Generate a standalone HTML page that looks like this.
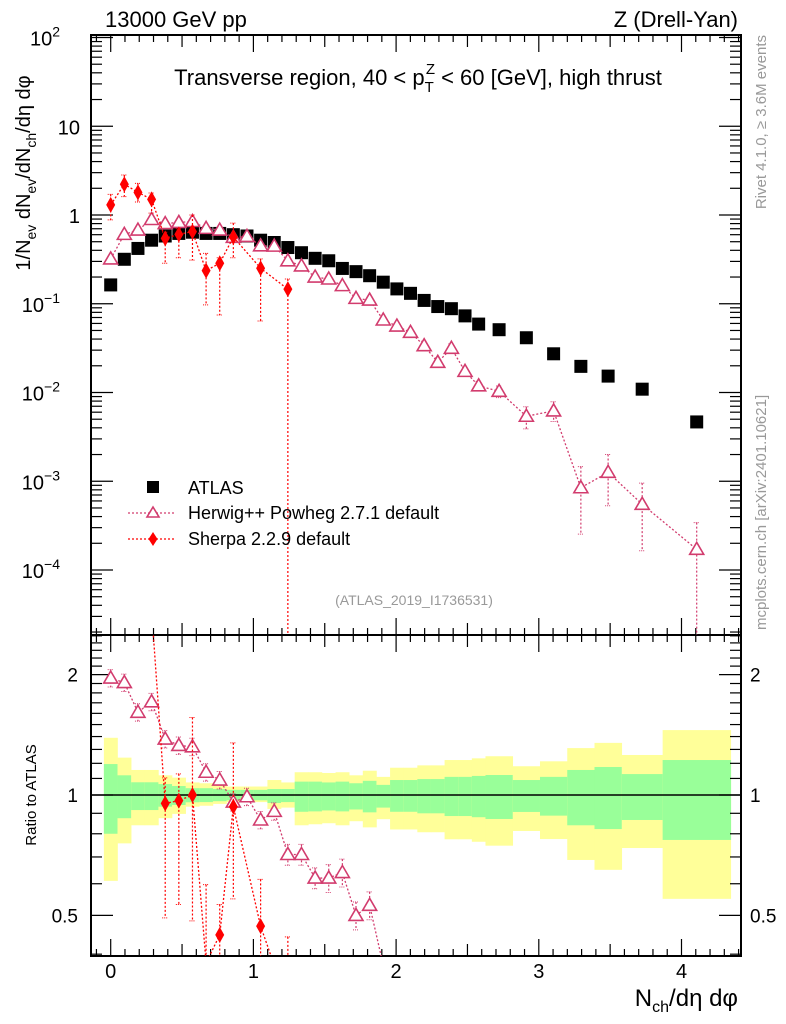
<!DOCTYPE html>
<html><head><meta charset="utf-8"><style>
html,body{margin:0;padding:0;background:#fff;width:786px;height:1024px;overflow:hidden;}
svg{display:block;font-family:"Liberation Sans",sans-serif;overflow:hidden;}
</style></head><body>
<svg id="chart" width="786" height="1024" viewBox="0 0 786 1024" xmlns="http://www.w3.org/2000/svg">
<g id="bands"></g>
<g id="grid"></g>
<g id="marks"></g>
<g id="labels">
<text x="105" y="27" font-size="22">13000 GeV pp</text>
<text x="738" y="27" font-size="22" text-anchor="end">Z (Drell-Yan)</text>
<text x="418" y="85" font-size="22" text-anchor="middle">Transverse region, 40 &lt; p<tspan font-size="15" dy="7">T</tspan><tspan font-size="15" dx="-8" dy="-18">Z</tspan><tspan dy="11"> &lt; 60 [GeV], high thrust</tspan></text>
<text transform="translate(766,35) rotate(-90)" font-size="15" fill="#999" text-anchor="end">Rivet 4.1.0, ≥ 3.6M events</text>
<text transform="translate(766,630) rotate(-90)" font-size="15" fill="#999">mcplots.cern.ch [arXiv:2401.10621]</text>
<text transform="translate(30,173) rotate(-90)" font-size="20" text-anchor="middle">1/N<tspan font-size="14" dy="6">ev</tspan><tspan dy="-6"> dN</tspan><tspan font-size="14" dy="6">ev</tspan><tspan dy="-6">/dN</tspan><tspan font-size="14" dy="6">ch</tspan><tspan dy="-6">/dη dφ</tspan></text>
<text transform="translate(36,795) rotate(-90)" font-size="15" text-anchor="middle">Ratio to ATLAS</text>
<text x="738" y="1006" font-size="24" text-anchor="end">N<tspan font-size="16" dy="6">ch</tspan><tspan dy="-6">/dη dφ</tspan></text>
<text x="414" y="605" font-size="14" fill="#999" text-anchor="middle">(ATLAS_2019_I1736531)</text>
<g>
<rect x="147" y="481" width="12" height="12" fill="#000"/>
<text x="188" y="494" font-size="18">ATLAS</text>
<line x1="128" y1="513" x2="176" y2="513" stroke="#d23c6e" stroke-width="1.2" stroke-dasharray="2,2"/>
<polygon points="153,507 159,517 147,517" fill="#fff" stroke="#d23c6e" stroke-width="1.6"/>
<text x="188" y="519" font-size="18">Herwig++ Powheg 2.7.1 default</text>
<line x1="128" y1="539" x2="176" y2="539" stroke="#f00" stroke-width="1.2" stroke-dasharray="2,2"/>
<polygon points="153,532 157.5,539 153,546 148.5,539" fill="#f00"/>
<text x="188" y="545" font-size="18">Sherpa 2.2.9 default</text>
</g>
</g>
</svg>
<script>
// ---- data ----
const xVals = [0,0.0955,0.191,0.2865,0.382,0.4775,0.573,0.6685,0.764,0.8595,0.955,1.0505,1.146,1.2415,1.337,1.4325,1.528,1.6235,1.719,1.8145,1.91,2.0055,2.101,2.1965,2.292,2.3875,2.483,2.5785,2.7218,2.9128,3.1038,3.2948,3.4858,3.7245,4.1065];
const binEdges = [-0.0478,0.0478,0.1433,0.2388,0.3343,0.4298,0.5253,0.6208,0.7163,0.8118,0.9073,1.0028,1.0983,1.1938,1.2893,1.3848,1.4803,1.5758,1.6713,1.7668,1.8623,1.9578,2.0533,2.1488,2.2443,2.3398,2.4353,2.5308,2.6263,2.8173,3.0083,3.1993,3.3903,3.5813,3.8678,4.3453];
const atlas = [0.163,0.317,0.42,0.52,0.58,0.62,0.64,0.62,0.62,0.6,0.58,0.52,0.49,0.43,0.376,0.325,0.305,0.25,0.23,0.207,0.175,0.147,0.131,0.109,0.093,0.088,0.073,0.059,0.051,0.0414,0.0273,0.0197,0.0153,0.0109,0.00466];
const herwig = [0.32,0.605,0.676,0.89,0.80,0.825,0.845,0.707,0.676,0.56,0.574,0.45,0.446,0.305,0.267,0.2,0.19,0.16,0.115,0.11,0.0656,0.0561,0.0476,0.0337,0.0219,0.0315,0.0173,0.0119,0.0103,0.0054,0.0062,0.000845,0.00126,0.00055,0.000171];
const herwigErrUp = [0.05,0.05,0.05,0.05,0.05,0.05,0.05,0.05,0.05,0.05,0.05,0.05,0.05,0.06,0.06,0.06,0.08,0.08,0.08,0.08,0.08,0.08,0.08,0.12,0.12,0.12,0.12,0.12,0.15,0.28,0.27,0.73,0.59,0.73,1.0];
const herwigErrDn = [0.05,0.05,0.05,0.05,0.05,0.05,0.05,0.05,0.05,0.05,0.05,0.05,0.05,0.06,0.06,0.06,0.08,0.08,0.08,0.08,0.08,0.08,0.08,0.12,0.12,0.12,0.12,0.12,0.15,0.28,0.24,0.70,0.58,0.70,1.0];
const herwigRatio = [1.96,1.91,1.61,1.71,1.38,1.33,1.32,1.14,1.09,0.96,0.99,0.866,0.91,0.71,0.71,0.62,0.62,0.64,0.50,0.53,0.375,0.38,0.363,0.31,0.235,0.36,0.237,0.2,0.2,0.13,0.23,0.043,0.082,0.05,0.037];
const sherpaIdx = [0,1,2,3,4,5,6,7,8,9,11,13];
const sherpa = [1.30,2.22,1.80,1.50,0.546,0.605,0.65,0.236,0.286,0.565,0.251,0.146];
const sherpaHi = [1.71,2.82,2.27,1.77,0.64,0.70,1.0,0.37,0.33,0.81,0.32,0.19];
const sherpaLo = [0.88,1.61,1.40,1.05,0.286,0.33,0.31,0.097,0.0747,0.33,0.064,0];
const sherpaRatio = [8.0,7.0,4.3,2.9,0.953,0.968,1.0,0.38,0.447,0.935,0.47,0.3];
const yellowUp = [1.39,1.24,1.155,1.155,1.12,1.105,1.075,1.07,1.06,1.05,1.05,1.05,1.09,1.075,1.14,1.14,1.135,1.14,1.12,1.15,1.11,1.17,1.17,1.186,1.186,1.223,1.223,1.235,1.25,1.18,1.214,1.31,1.35,1.259,1.453];
const greenUp = [1.195,1.12,1.076,1.076,1.065,1.053,1.04,1.04,1.035,1.03,1.03,1.03,1.035,1.035,1.08,1.08,1.075,1.08,1.07,1.085,1.06,1.09,1.09,1.096,1.096,1.11,1.11,1.116,1.122,1.09,1.11,1.155,1.175,1.128,1.223];
const greenDn = [0.80,0.875,0.917,0.917,0.935,0.944,0.959,0.96,0.965,0.97,0.97,0.97,0.955,0.96,0.908,0.91,0.915,0.91,0.92,0.905,0.93,0.908,0.908,0.90,0.90,0.886,0.886,0.88,0.871,0.907,0.888,0.84,0.822,0.866,0.772];
const yellowDn = [0.61,0.757,0.84,0.84,0.875,0.897,0.935,0.94,0.95,0.96,0.96,0.96,0.923,0.93,0.84,0.845,0.85,0.84,0.86,0.83,0.87,0.82,0.82,0.807,0.807,0.775,0.775,0.764,0.747,0.813,0.776,0.688,0.65,0.737,0.55];
const xTicks = [0,1,2,3,4];
const yTickExp = [2,1,0,-1,-2,-3,-4];
const yTickLabels = ["10","10","1","10","10","10","10"];
const yTickSup = ["2","","","−1","−2","−3","−4"];
const rTicks = [2,1,0.5];
const rTickLabels = ["2","1","0.5"];

// ---- geometry ----
const L=91, R=741, T=35, M=635, B=956;
const X = v => 110.7 + 142.7*v;
const Y = v => 570 - 88.75*(Math.log10(v)+4);
const RY = v => 795 - 400*Math.log10(v);
const RMIN=0.398, RMAX=2.55;
const NS="http://www.w3.org/2000/svg";
function mk(tag, attrs, parent){const e=document.createElementNS(NS,tag);for(const k in attrs)e.setAttribute(k,attrs[k]);parent.appendChild(e);return e;}
const bands=document.getElementById('bands'), grid=document.getElementById('grid'), marks=document.getElementById('marks');

const defs=mk('defs',{},document.getElementById('chart'));
const c1=mk('clipPath',{id:'clipTop'},defs); mk('rect',{x:L,y:T,width:R-L,height:M-T},c1);
const c2=mk('clipPath',{id:'clipBot'},defs); mk('rect',{x:L,y:M,width:R-L,height:B-M},c2);

for(let i=0;i<binEdges.length-1;i++){
  const x0=X(binEdges[i]), x1=X(binEdges[i+1]);
  const y=mk('rect',{x:x0,y:RY(yellowUp[i]),width:x1-x0+0.3,height:RY(yellowDn[i])-RY(yellowUp[i]),fill:'#ffff99'},bands);
  
  
  const g=mk('rect',{x:x0,y:RY(greenUp[i]),width:x1-x0+0.3,height:RY(greenDn[i])-RY(greenUp[i]),fill:'#99ff99'},bands);
  
  
}
const one=mk('line',{x1:L,x2:R,y1:RY(1),y2:RY(1),stroke:'#000','stroke-width':1.5},bands);



for(const [y0,y1] of [[T,M],[M,B]]){
  const f=mk('rect',{x:L,y:y0,width:R-L,height:y1-y0,fill:'none',stroke:'#000','stroke-width':2},grid);
  
  
}
for(let k=-1;k<=44;k++){
  const v=k/10, px=X(v); if(px<L+1||px>R-1) continue;
  const major=(k%10===0), len=major?17:(k%5===0?12:7);
  for(const [base,top] of [[M,T],[B,M]]){
    mk('line',{x1:px,x2:px,y1:base,y2:base-len,stroke:'#000','stroke-width':1.2},grid);
    mk('line',{x1:px,x2:px,y1:top,y2:top+len,stroke:'#000','stroke-width':1.2},grid);
  }
}
xTicks.forEach(v=>{const t=mk('text',{x:X(v),y:978,'font-size':20,'text-anchor':'middle'},grid);t.textContent=String(v);

});
for(let e=-5;e<=2;e++){for(let m=1;m<10;m++){const v=m*Math.pow(10,e);const py=Y(v);if(py<T+0.5||py>M-0.5)continue;
 const len=m===1?22:11; mk('line',{x1:L,x2:L+len,y1:py,y2:py,stroke:'#000','stroke-width':1.2},grid); mk('line',{x1:R,x2:R-len,y1:py,y2:py,stroke:'#000','stroke-width':1.2},grid);}}
yTickExp.forEach((e,i)=>{const t=mk('text',{x:yTickSup[i]?62:80,y:Y(Math.pow(10,e))+8,'font-size':20,'text-anchor':'end'},grid);t.textContent=yTickLabels[i];
 if(yTickSup[i]){const s=mk('tspan',{dy:-9,'font-size':14},t);s.textContent=yTickSup[i];t.setAttribute('x',60);t.setAttribute('text-anchor','end');}
 
 });
for(let m=4;m<=25;m++){const v=m/10;const py=RY(v);if(py<M+0.5||py>B-0.5)continue;const major=(m===5||m===10||m===20);const len=major?22:11;
 mk('line',{x1:L,x2:L+len,y1:py,y2:py,stroke:'#000','stroke-width':1.2},grid); mk('line',{x1:R,x2:R-len,y1:py,y2:py,stroke:'#000','stroke-width':1.2},grid);}
rTicks.forEach((v,i)=>{for(const [x,a] of [[78,'end'],[750,'start']]){const t=mk('text',{x:x,y:RY(v)+7,'font-size':19,'text-anchor':a},grid);t.textContent=rTickLabels[i];
 
 }});

const HC='#d23c6e', SC='#ff0000';
function tri(x,y,parent,name){const p=mk('polygon',{points:`${x},${y-7} ${x+7},${y+5} ${x-7},${y+5}`,fill:'#fff',stroke:HC,'stroke-width':1.6},parent);}
function dia(x,y,parent,name){const p=mk('polygon',{points:`${x},${y-8} ${x+4.5},${y} ${x},${y+8} ${x-4.5},${y}`,fill:SC},parent);}
function ebar(x,y0,y1,col,parent){mk('line',{x1:x,x2:x,y1:y0,y2:y1,stroke:col,'stroke-width':1.2,'stroke-dasharray':'2,2'},parent);
 mk('line',{x1:x-3,x2:x+3,y1:y0,y2:y0,stroke:col,'stroke-width':1,'stroke-dasharray':'1,1'},parent);mk('line',{x1:x-3,x2:x+3,y1:y1,y2:y1,stroke:col,'stroke-width':1,'stroke-dasharray':'1,1'},parent);}
const gTop=mk('g',{'clip-path':'url(#clipTop)'},marks), gBot=mk('g',{'clip-path':'url(#clipBot)'},marks);

atlas.forEach((v,i)=>{const r=mk('rect',{x:X(xVals[i])-6.5,y:Y(v)-6.5,width:13,height:13,fill:'#000'},gTop);
 
 });
mk('polyline',{points:herwig.map((v,i)=>X(xVals[i])+','+Y(v)).join(' '),fill:'none',stroke:HC,'stroke-width':1.3,'stroke-dasharray':'2,2'},gTop);
herwig.forEach((v,i)=>{const x=X(xVals[i]);const lo=v*(1-herwigErrDn[i]);ebar(x,Y(v*(1+herwigErrUp[i])),lo>0?Y(lo):M+5,HC,gTop);tri(x,Y(v),gTop,'herwig-point');});
mk('polyline',{points:sherpa.map((v,i)=>X(xVals[sherpaIdx[i]])+','+Y(v)).join(' '),fill:'none',stroke:SC,'stroke-width':1.3,'stroke-dasharray':'2,2'},gTop);
sherpa.forEach((v,i)=>{const x=X(xVals[sherpaIdx[i]]);ebar(x,Y(sherpaHi[i]),sherpaLo[i]>0?Y(sherpaLo[i]):M+5,SC,gTop);dia(x,Y(v),gTop,'sherpa-point');});
mk('polyline',{points:herwigRatio.map((v,i)=>X(xVals[i])+','+RY(v)).join(' '),fill:'none',stroke:HC,'stroke-width':1.3,'stroke-dasharray':'2,2'},gBot);
herwigRatio.forEach((v,i)=>{if(v<RMIN||v>RMAX)return;const x=X(xVals[i]);ebar(x,RY(v*(1+herwigErrUp[i])),RY(Math.max(v*(1-herwigErrDn[i]),0.01)),HC,gBot);tri(x,RY(v),gBot,'herwig-ratio-point');});
mk('polyline',{points:sherpaRatio.map((v,i)=>X(xVals[sherpaIdx[i]])+','+RY(v)).join(' '),fill:'none',stroke:SC,'stroke-width':1.3,'stroke-dasharray':'2,2'},gBot);
sherpaRatio.forEach((v,i)=>{const k=sherpaIdx[i];const x=X(xVals[k]);const a=atlas[k];if(v>RMAX)return;ebar(x,RY(sherpaHi[i]/a),RY(Math.max(sherpaLo[i]/a,0.01)),SC,gBot);if(v>=RMIN)dia(x,RY(v),gBot,'sherpa-ratio-point');});
</script>
</body></html>
